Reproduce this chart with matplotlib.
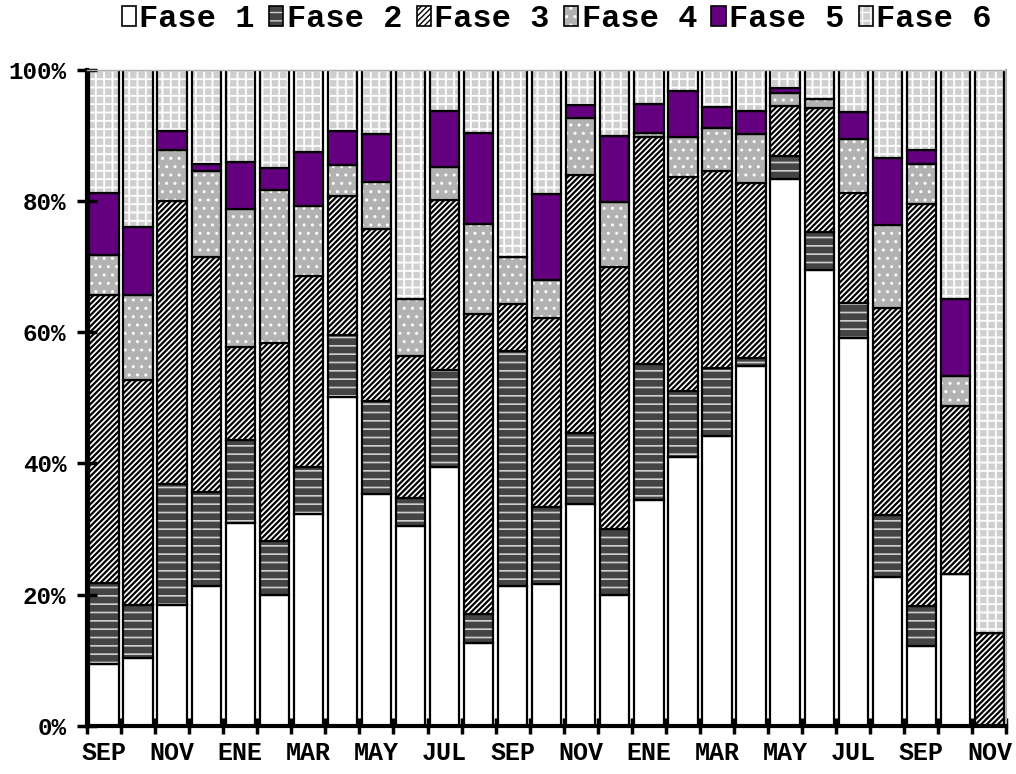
import matplotlib
matplotlib.use("Agg")
import matplotlib.pyplot as plt
import matplotlib.patches as mpatches
from matplotlib.legend_handler import HandlerTuple
import numpy as np

# ==== Data (percent of each phase per month) ====
months = ["SEP", "OCT", "NOV", "DIC", "ENE", "FEB", "MAR", "ABR", "MAY",
          "JUN", "JUL", "AGO", "SEP", "OCT", "NOV", "DIC", "ENE", "FEB",
          "MAR", "ABR", "MAY", "JUN", "JUL", "AGO", "SEP", "OCT", "NOV"]

fase1 = [9.4, 10.4, 18.4, 21.3, 30.9, 20.0, 32.3, 50.2, 35.3, 30.4, 39.4, 12.6, 21.3, 21.6,
         33.8, 19.9, 34.5, 41.0, 44.2, 54.8, 83.3, 69.5, 59.1, 22.7, 12.2, 23.1, 0.0]
fase2 = [12.4, 8.0, 18.4, 14.3, 12.7, 8.2, 7.2, 9.4, 14.2, 4.3, 14.9, 4.4, 35.8, 11.7,
         10.8, 10.1, 20.6, 10.1, 10.3, 1.2, 3.5, 5.8, 5.3, 9.5, 6.1, 0.0, 0.0]
fase3 = [43.8, 34.3, 43.2, 35.8, 14.1, 30.1, 29.0, 21.1, 26.2, 21.7, 25.9, 45.8, 7.2, 28.9,
         39.3, 40.0, 34.6, 32.6, 30.0, 26.8, 7.6, 18.9, 16.8, 31.5, 61.3, 25.7, 14.2]
fase4 = [6.2, 13.0, 7.7, 13.1, 21.1, 23.3, 10.7, 4.8, 7.2, 8.7, 4.9, 13.7, 7.1, 5.8,
         8.8, 9.9, 0.7, 6.1, 6.6, 7.4, 2.0, 1.4, 8.2, 12.6, 6.0, 4.6, 0.0]
fase5 = [9.4, 10.4, 3.0, 1.2, 7.1, 3.4, 8.2, 5.1, 7.3, 0.0, 8.6, 13.9, 0.0, 13.1,
         1.9, 10.0, 4.4, 7.0, 3.2, 3.5, 0.8, 0.0, 4.2, 10.2, 2.1, 11.7, 0.0]
fase6 = [18.8, 23.9, 9.3, 14.3, 14.1, 15.0, 12.6, 9.4, 9.8, 34.9, 6.3, 9.6, 28.6, 18.9,
         5.4, 10.1, 5.2, 3.2, 5.7, 6.3, 2.8, 4.4, 6.4, 13.5, 12.3, 34.9, 85.8]

series = [("Fase 1", fase1), ("Fase 2", fase2), ("Fase 3", fase3),
          ("Fase 4", fase4), ("Fase 5", fase5), ("Fase 6", fase6)]

# === Fill styles: (face, hatch, hatch colour, hatch linewidth) ===
STYLES = {
    "Fase 1": ("white", None, "white", 1.0),
    "Fase 2": ("#444444", "--", "#d0d0d0", 1.2),
    "Fase 3": ("white", "//////", "black", 1.6),
    "Fase 4": ("#b2b2b2", "..", "white", 1.0),
    "Fase 5": ("#640080", None, "#640080", 1.0),
    "Fase 6": ("#cfcfcf", "++", "white", 1.3),
}

plt.rcParams["font.family"] = ["Liberation Mono", "DejaVu Sans Mono"]
plt.rcParams["font.weight"] = "bold"

fig = plt.figure(figsize=(10.16, 7.74), dpi=100)
ax = fig.add_axes([0.0856, 0.062, 0.905, 0.848])

x = np.arange(len(months))
width = 0.86
bottom = np.zeros(len(months))
handles = []
for name, vals in series:
    vals = np.array(vals)
    face, hatch, hcol, hlw = STYLES[name]
    with plt.rc_context({"hatch.linewidth": hlw}):
        # fill + hatch layer
        ax.bar(x, vals, width, bottom=bottom, color=face, hatch=hatch,
               edgecolor=hcol, linewidth=0)
        h_fill = mpatches.Patch(facecolor=face, hatch=hatch, edgecolor=hcol, linewidth=0)
    # outline layer
    ax.bar(x, vals, width, bottom=bottom, facecolor="none",
           edgecolor="black", linewidth=1.6)
    bottom += vals
    h_edge = mpatches.Patch(facecolor="none", edgecolor="black", linewidth=1.2)
    handles.append((h_fill, h_edge))

ax.set_xlim(-0.5, len(months) - 0.5)
ax.set_ylim(0, 100)

# month labels every other bar
ax.set_xticks(x)
ax.set_xticklabels([m if i % 2 == 0 else "" for i, m in enumerate(months)], fontsize=18)
ax.tick_params(axis="x", which="major", length=0, pad=11)
ax.set_xticks(np.arange(len(months) + 1) - 0.5, minor=True)
ax.tick_params(axis="x", which="minor", direction="inout", length=11, width=2.5)

ax.set_yticks(np.arange(0, 101, 20))
ax.set_yticklabels([f"{v}%" for v in range(0, 101, 20)], fontsize=17.5)
ax.tick_params(axis="y", direction="inout", length=14, width=2.5, pad=8)

ax.spines["left"].set_linewidth(3)
ax.spines["bottom"].set_linewidth(3)
ax.spines["top"].set_color("#b0b0b0")
ax.spines["top"].set_linewidth(1)
ax.spines["right"].set_color("#b0b0b0")
ax.spines["right"].set_linewidth(1.5)

fig.legend(handles, [n for n, _ in series], handler_map={tuple: HandlerTuple(ndivide=1)},
           loc="upper center", bbox_to_anchor=(0.548, 1.015), ncol=6, frameon=False,
           fontsize=23, handlelength=0.45, handleheight=0.6, handletextpad=0.1,
           columnspacing=0.45, borderaxespad=0.1)

fig.savefig("out.png", dpi=100)
